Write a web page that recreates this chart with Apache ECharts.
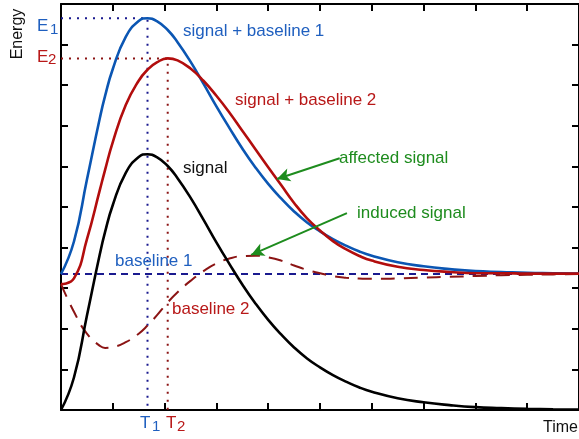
<!DOCTYPE html>
<html>
<head>
<meta charset="utf-8">
<script src="https://cdn.jsdelivr.net/npm/echarts@6/dist/echarts.min.js"></script>
<style>html,body{margin:0;padding:0;background:#fff}#c{width:579px;height:439px}</style>
</head>
<body>
<div id="c"></div>
<script>
// Time grid (x values)
var times = [0,0.25,0.5,0.75,0.85,1,1.25,1.5,1.67,1.85,2.06,2.25,2.5,2.75,3,3.25,3.5,3.75,4,4.25,4.5,4.75,5,5.25,5.5,5.75,6,6.5,7,7.5,8,8.5,9,9.5,10];
// signal (black)
var signal = [0,0.8,2.32,3.84,4.38,5.05,5.84,6.23,6.30,6.23,6.01,5.71,5.23,4.69,4.13,3.60,3.09,2.63,2.22,1.86,1.54,1.27,1.05,0.86,0.70,0.56,0.45,0.29,0.19,0.12,0.07,0.046,0.028,0.017,0.01];
// baseline 2 (dashed dark red)
var baseline2 = [3.10,2.42,1.88,1.58,1.53,1.55,1.67,1.88,2.08,2.33,2.65,2.90,3.18,3.42,3.61,3.73,3.79,3.80,3.76,3.68,3.56,3.45,3.37,3.30,3.26,3.24,3.23,3.24,3.26,3.28,3.30,3.32,3.33,3.34,3.35];
// signal + baseline 1 (blue)
var sigBase1 = [3.35,4.15,5.67,7.19,7.73,8.40,9.19,9.58,9.65,9.58,9.36,9.06,8.58,8.04,7.48,6.95,6.44,5.98,5.57,5.21,4.89,4.62,4.40,4.21,4.05,3.91,3.80,3.64,3.54,3.47,3.42,3.40,3.38,3.37,3.36];
// signal + baseline 2 (red)
var sigBase2 = [3.10,3.24,4.20,5.42,5.91,6.60,7.51,8.11,8.38,8.56,8.66,8.61,8.41,8.11,7.74,7.33,6.88,6.43,5.98,5.54,5.10,4.72,4.42,4.16,3.96,3.80,3.68,3.53,3.45,3.40,3.37,3.37,3.36,3.36,3.36];
// baseline 1 level
var baseline1Level = 3.35;
// peaks: [T, E]
var peak1 = [1.67, 9.65];
var peak2 = [2.06, 8.66];
// annotation arrows [from, to]
var arrowAffected = [[5.38, 6.2], [4.17, 5.69]];
var arrowInduced = [[5.52, 4.85], [3.67, 3.82]];

function zip(xs, ys){ return xs.map(function(x,i){ return [x, ys[i]]; }); }

var FONT = '"Liberation Sans", Arial, Helvetica, sans-serif';
var BLUE = '#0b56b3', RED = '#b20d0d', NAVY = '#1a1a8f', DRED = '#8b1414', GREEN = '#1e8c1e';
var BLUE_T = '#1f5fbf', RED_T = '#b81818';

function axisCommon(pos){
  return {
    type:'value', min:0, max:10, interval:1, position:pos,
    axisLine:{show:true, onZero:false, lineStyle:{color:'#000', width:2}},
    axisTick:{show:true, inside:true, length:7, lineStyle:{color:'#000', width:2}},
    axisLabel:{show:false}, splitLine:{show:false}
  };
}

function txt(x, y, s, color, size){
  return {type:'text', x:x, y:y, z:100,
    style:{text:s, fill:color, font:size+'px '+FONT, textVerticalAlign:'middle', textAlign:'left'}};
}

var chart = echarts.init(document.getElementById('c'), null, {renderer:'canvas'});
chart.setOption({
  animation:false,
  grid:{left:61, top:4, width:520, height:406},
  xAxis:[axisCommon('bottom'), axisCommon('top')],
  yAxis:[axisCommon('left'), axisCommon('right')],
  series:[
    {type:'line', name:'guide1', data:[[0,peak1[1]],[peak1[0],peak1[1]],[peak1[0],0]], symbol:'none', z:1,
     lineStyle:{color:NAVY, width:2, type:[2,6]}},
    {type:'line', name:'guide2', data:[[0,peak2[1]],[peak2[0],peak2[1]],[peak2[0],0]], symbol:'none', z:1,
     lineStyle:{color:DRED, width:2, type:[2,6]}},
    {type:'line', name:'baseline 1', data:[[0,baseline1Level],[10,baseline1Level]], symbol:'none', z:2,
     lineStyle:{color:NAVY, width:2, type:[7,5]}},
    {type:'line', name:'baseline 2', data:zip(times, baseline2), symbol:'none', smooth:0.5, z:2,
     lineStyle:{color:DRED, width:2, type:[14,9]}},
    {type:'line', name:'signal', data:zip(times, signal), symbol:'none', smooth:0.5, z:3,
     lineStyle:{color:'#000', width:2.6}},
    {type:'line', name:'signal + baseline 1', data:zip(times, sigBase1), symbol:'none', smooth:0.5, z:3,
     lineStyle:{color:BLUE, width:2.6}},
    {type:'line', name:'signal + baseline 2', data:zip(times, sigBase2), symbol:'none', smooth:0.5, z:4,
     lineStyle:{color:RED, width:2.6}},
    {type:'line', name:'arrows', data:[], symbol:'none', z:5,
     markLine:{silent:true, symbol:['none','arrow'], symbolSize:[10,13], animation:false,
       label:{show:false}, lineStyle:{color:GREEN, width:2, type:'solid'},
       data:[
         [{coord:arrowAffected[0]},{coord:arrowAffected[1]}],
         [{coord:arrowInduced[0]},{coord:arrowInduced[1]}]
       ]}}
  ],
  graphic:[
    txt(37, 26, 'E', BLUE_T, 17), txt(50, 30, '1', BLUE_T, 15),
    txt(37, 57, 'E', RED_T, 17), txt(48, 60, '2', RED_T, 15),
    txt(140, 423, 'T', BLUE_T, 17), txt(152, 427, '1', BLUE_T, 15),
    txt(166, 423, 'T', RED_T, 17), txt(177, 427, '2', RED_T, 15),
    txt(183, 31, 'signal + baseline 1', BLUE_T, 17),
    txt(235, 100, 'signal + baseline 2', RED_T, 17),
    txt(183, 168, 'signal', '#111', 17),
    txt(115, 261, 'baseline 1', BLUE_T, 17),
    txt(172, 309, 'baseline 2', RED_T, 17),
    txt(339, 158, 'affected signal', GREEN, 17),
    txt(357, 213, 'induced signal', GREEN, 17),
    txt(543, 428, 'Time', '#111', 16),
    {type:'text', x:18, y:34, rotation:Math.PI/2, z:100,
     style:{text:'Energy', fill:'#111', font:'16px '+FONT, textAlign:'center', textVerticalAlign:'middle'}}
  ]
});
</script>
</body>
</html>
